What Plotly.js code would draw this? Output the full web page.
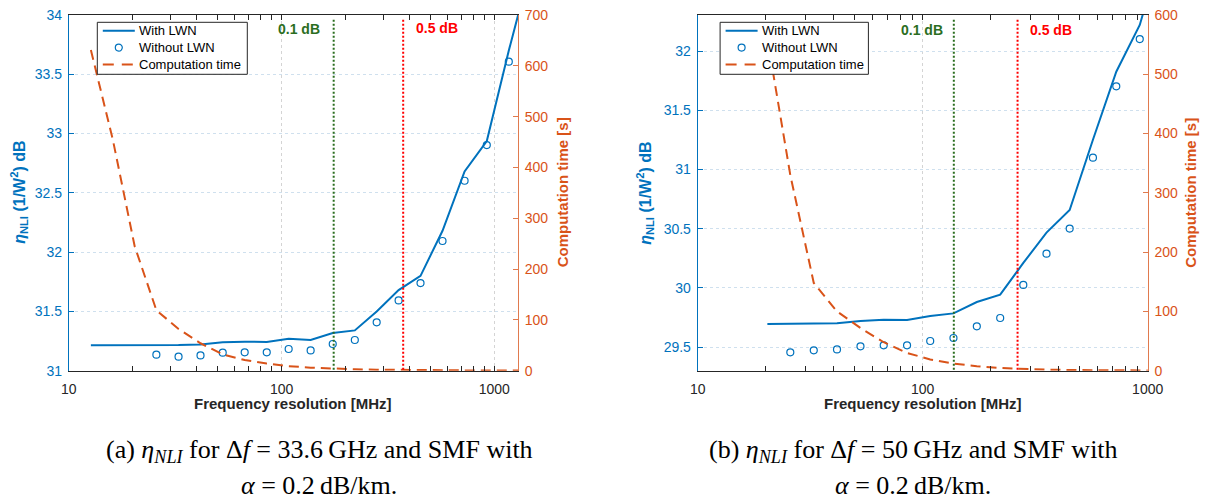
<!DOCTYPE html>
<html><head><meta charset="utf-8">
<script src="https://cdn.plot.ly/plotly-3.0.1.min.js"></script>
<style>html,body{margin:0;padding:0;background:#fff}#chart{width:1206px;height:500px}</style>
</head><body><div id="chart"></div>
<script>
// ---------- data ----------
// (a) Δf = 33.6 GHz
const freqLineA   = [12.7, 16.1, 20.4, 25.8, 32.8, 41.6, 52.9, 67.1, 85.2, 108, 137, 174, 221, 280, 355, 450, 571, 725, 922, 1170, 1480];
const withLwnA    = [31.214, 31.214, 31.214, 31.214, 31.216, 31.222, 31.239, 31.245, 31.242, 31.27, 31.259, 31.318, 31.34, 31.50, 31.68, 31.80, 32.18, 32.68, 32.937, 33.70, 34.40];
const compTimeA   = [631, 455, 245, 119, 82, 54, 32, 21, 14, 9, 6, 4, 2.8, 2, 1.4, 1, 0.7, 0.5, 0.3, 0.2, 0.1];
const freqMarkA   = [25.8, 32.8, 41.6, 52.9, 67.1, 85.2, 108, 137, 174, 221, 280, 355, 450, 571, 725, 922, 1170];
const withoutLwnA = [31.135, 31.118, 31.129, 31.152, 31.155, 31.155, 31.183, 31.171, 31.225, 31.259, 31.408, 31.593, 31.739, 32.094, 32.602, 32.903, 33.606];
const thresholdA  = [175.8, 373];   // 0.1 dB, 0.5 dB

// (b) Δf = 50 GHz
const freqLineB   = [20.4, 25.8, 32.8, 41.6, 52.9, 67.1, 85.2, 108, 137, 174, 221, 280, 355, 450, 571, 725, 922, 1170];
const withLwnB    = [29.694, 29.694, 29.697, 29.70, 29.72, 29.731, 29.728, 29.762, 29.784, 29.88, 29.942, 30.21, 30.466, 30.657, 31.25, 31.825, 32.22, 32.9];
const compTimeB   = [560, 330, 148, 100, 72, 48, 30, 19, 12, 7.5, 4.5, 2.8, 1.8, 1.2, 0.8, 0.5, 0.3, 0.2];
const freqMarkB   = [25.8, 32.8, 41.6, 52.9, 67.1, 85.2, 108, 137, 174, 221, 280, 355, 450, 571, 725, 922];
const withoutLwnB = [29.455, 29.472, 29.480, 29.506, 29.514, 29.514, 29.551, 29.576, 29.675, 29.745, 30.024, 30.288, 30.50, 31.099, 31.702, 32.101];
const thresholdB  = [137.5, 264];

const seriesNames   = ['With LWN', 'Without LWN', 'Computation time'];
const thresholdText = ['0.1 dB', '0.5 dB'];
const xTickVals  = [10, 100, 1000];
const xTickText  = ['10', '100', '1000'];
const yTicksA    = [31, 31.5, 32, 32.5, 33, 33.5, 34];
const yTicksB    = [29.5, 30, 30.5, 31, 31.5, 32];
const y2TicksA   = [0, 100, 200, 300, 400, 500, 600, 700];
const y2TicksB   = [0, 100, 200, 300, 400, 500, 600];
const captionA   = ['(a) <i>η<sub>NLI</sub></i> for Δ<i>f</i> = 33.6\u2009GHz and SMF with', '<i>α</i> = 0.2\u2009dB/km.'];
const captionB   = ['(b) <i>η<sub>NLI</sub></i> for Δ<i>f</i> = 50\u2009GHz and SMF with', '<i>α</i> = 0.2\u2009dB/km.'];

// ---------- styling ----------
const BLUE = '#0072BD', ORANGE = '#D95319', ORANGE_AX = '#E07A4E', DARK = '#262626';
const GREEN = '#2B6E1F', RED = '#FF0000';
const SANS = 'Liberation Sans, Arial, Helvetica, sans-serif';
const SERIF = 'Liberation Serif, Times New Roman, serif';
const DASH = '10px,6px';
const W = 1206, H = 500;
const yDom = [1 - 370.7 / H, 1 - 15 / H];
const xDomA = [68.8 / W, 518 / W];
const xDomB = [697.7 / W, 1147.7 / W];
const px = v => v / W, py = v => 1 - v / H;

const minorVals = [];
for (let d = 10; d <= 1000; d *= 10) for (let k = 2; k <= 9; k++) minorVals.push(k * d);

function xAxis(dom, range, anchor) {
  return {
    type: 'log', domain: dom, range: range, anchor: anchor,
    tickmode: 'array', tickvals: xTickVals, ticktext: xTickText,
    ticks: 'inside', ticklen: 5, tickwidth: 1, tickcolor: DARK,
    minor: { tickmode: 'array', tickvals: minorVals, ticks: 'inside', ticklen: 3, tickwidth: 1, tickcolor: DARK, showgrid: false },
    showline: true, linecolor: DARK, linewidth: 1, mirror: 'allticks',
    showgrid: true, gridcolor: '#d4d4d4', griddash: 'dot', gridwidth: 1,
    zeroline: false, tickfont: { family: SANS, size: 14, color: DARK },
    ticklabelstandoff: 5
  };
}
function yLeft(range, ticks, anchor) {
  return {
    domain: yDom, range: range, anchor: anchor,
    tickmode: 'array', tickvals: ticks, ticktext: ticks.map(String),
    ticks: 'inside', ticklen: 5, tickcolor: BLUE,
    showline: true, linecolor: BLUE, linewidth: 1,
    showgrid: true, gridcolor: '#cfe0ee', griddash: 'dot', gridwidth: 1,
    zeroline: false, tickfont: { family: SANS, size: 14, color: BLUE },
    ticklabelstandoff: 3
  };
}
function yRight(range, ticks, overlay, anchor) {
  return {
    range: range, overlaying: overlay, side: 'right', anchor: anchor,
    tickmode: 'array', tickvals: ticks, ticktext: ticks.map(String),
    ticks: 'inside', ticklen: 5, tickcolor: ORANGE_AX,
    showline: true, linecolor: ORANGE_AX, linewidth: 1,
    showgrid: false, zeroline: false,
    tickfont: { family: SANS, size: 14, color: ORANGE },
    ticklabelstandoff: 3
  };
}

function traces(freqLine, withL, freqMark, without, comp, xa, ya, ya2) {
  return [
    { x: freqLine, y: comp, xaxis: xa, yaxis: ya2, name: seriesNames[2], showlegend: false,
      mode: 'lines', line: { color: ORANGE, width: 2, dash: DASH } },
    { x: freqLine, y: withL, xaxis: xa, yaxis: ya, name: seriesNames[0], showlegend: false,
      mode: 'lines', line: { color: BLUE, width: 2 } },
    { x: freqMark, y: without, xaxis: xa, yaxis: ya, name: seriesNames[1], showlegend: false,
      mode: 'markers', marker: { symbol: 'circle-open', size: 7, color: BLUE, line: { width: 1.2, color: BLUE } } }
  ];
}

const data = [].concat(
  traces(freqLineA, withLwnA, freqMarkA, withoutLwnA, compTimeA, 'x', 'y', 'y2'),
  traces(freqLineB, withLwnB, freqMarkB, withoutLwnB, compTimeB, 'x2', 'y3', 'y4')
);

function vline(xv, xref, yref, color) {
  return { type: 'line', xref: xref, yref: yref + ' domain', x0: xv, x1: xv, y0: 0.003, y1: 0.99,
           line: { color: color, width: 2, dash: '2px,2px' } };
}
function thrLabel(xv, xref, yref, text, color, anchor, shift, yshift) {
  return { xref: xref, yref: yref + ' domain', x: Math.log10(xv), y: 1, xanchor: anchor, yanchor: 'middle',
           xshift: shift, yshift: yshift, showarrow: false, text: '<b>' + text + '</b>',
           font: { family: SANS, size: 14, color: color } };
}
function titleAnn(text, xpx, ypx, color, angle, size) {
  return { xref: 'paper', yref: 'paper', x: px(xpx), y: py(ypx), xanchor: 'center', yanchor: 'middle',
           showarrow: false, text: '<b>' + text + '</b>', textangle: angle || 0,
           font: { family: SANS, size: size || 15, color: color } };
}
function capAnn(text, xpx, ypx) {
  return { xref: 'paper', yref: 'paper', x: px(xpx), y: py(ypx), xanchor: 'center', yanchor: 'middle',
           showarrow: false, text: text, font: { family: SERIF, size: 26, color: '#000' } };
}

// hand-built legend box (matches the compact MATLAB legend)
function legendShapes(left, width) {
  const top = 22.3, bottom = 74.3, rows = [30.8, 47.6, 64.4];
  const s0 = left + 5.5, s1 = left + 37.5, cx = (s0 + s1) / 2, r = 3.5;
  return [
    { type: 'rect', xref: 'paper', yref: 'paper', x0: px(left), x1: px(left + width), y0: py(bottom), y1: py(top),
      fillcolor: '#fff', line: { color: DARK, width: 1 } },
    { type: 'line', xref: 'paper', yref: 'paper', x0: px(s0), x1: px(s1), y0: py(rows[0]), y1: py(rows[0]),
      line: { color: BLUE, width: 2 } },
    { type: 'circle', xref: 'paper', yref: 'paper', x0: px(cx - r), x1: px(cx + r), y0: py(rows[1] + r), y1: py(rows[1] - r),
      line: { color: BLUE, width: 1.2 }, fillcolor: 'rgba(0,0,0,0)' },
    { type: 'line', xref: 'paper', yref: 'paper', x0: px(s0), x1: px(s1), y0: py(rows[2]), y1: py(rows[2]),
      line: { color: ORANGE, width: 2, dash: '11px,8px' } }
  ];
}
function legendTexts(left) {
  const rows = [30.8, 47.6, 64.4];
  return seriesNames.map((n, i) => ({
    xref: 'paper', yref: 'paper', x: px(left + 39.5), y: py(rows[i]), xanchor: 'left', yanchor: 'middle',
    showarrow: false, text: n, font: { family: SANS, size: 13, color: '#000' }
  }));
}

const yMidPx = (15 + 370.7) / 2;
const etaTitle = '<i>η</i><sub>NLI</sub> (1/W<sup>2</sup>) dB';

const layout = {
  width: W, height: H, margin: { l: 0, r: 0, t: 0, b: 0, pad: 0 },
  paper_bgcolor: '#fff', plot_bgcolor: '#fff', showlegend: false,
  xaxis: xAxis(xDomA, [1, 3.1114], 'y'),
  yaxis: yLeft([31, 34], yTicksA, 'x'),
  yaxis2: yRight([0, 700], y2TicksA, 'y', 'x'),
  xaxis2: xAxis(xDomB, [1, 3], 'y3'),
  yaxis3: yLeft([29.3, 32.304], yTicksB, 'x2'),
  yaxis4: yRight([0, 600], y2TicksB, 'y3', 'x2'),
  shapes: [
    vline(thresholdA[0], 'x', 'y', GREEN), vline(thresholdA[1], 'x', 'y', RED),
    vline(thresholdB[0], 'x2', 'y3', GREEN), vline(thresholdB[1], 'x2', 'y3', RED)
  ].concat(legendShapes(97.3, 150), legendShapes(720.1, 148.3)),
  annotations: [
    thrLabel(thresholdA[0], 'x', 'y', thresholdText[0], GREEN, 'right', -12, -14),
    thrLabel(thresholdA[1], 'x', 'y', thresholdText[1], RED, 'left', 11, -13),
    thrLabel(thresholdB[0], 'x2', 'y3', thresholdText[0], GREEN, 'right', -9, -15),
    thrLabel(thresholdB[1], 'x2', 'y3', thresholdText[1], RED, 'left', 10, -15),
    titleAnn('Frequency resolution [MHz]', 293.4, 403, DARK),
    titleAnn('Frequency resolution [MHz]', 922.7, 403, DARK),
    titleAnn(etaTitle, 19, yMidPx, BLUE, -90, 16),
    titleAnn('Computation time [s]', 562.5, yMidPx, ORANGE, -90),
    titleAnn(etaTitle, 645, yMidPx, BLUE, -90, 16),
    titleAnn('Computation time [s]', 1191, yMidPx, ORANGE, -90),
    capAnn(captionA[0], 319, 451), capAnn(captionA[1], 319, 485),
    capAnn(captionB[0], 913, 451), capAnn(captionB[1], 913, 485)
  ].concat(legendTexts(97.3), legendTexts(720.1))
};

Plotly.newPlot('chart', data, layout, { staticPlot: true, displayModeBar: false });
</script></body></html>
